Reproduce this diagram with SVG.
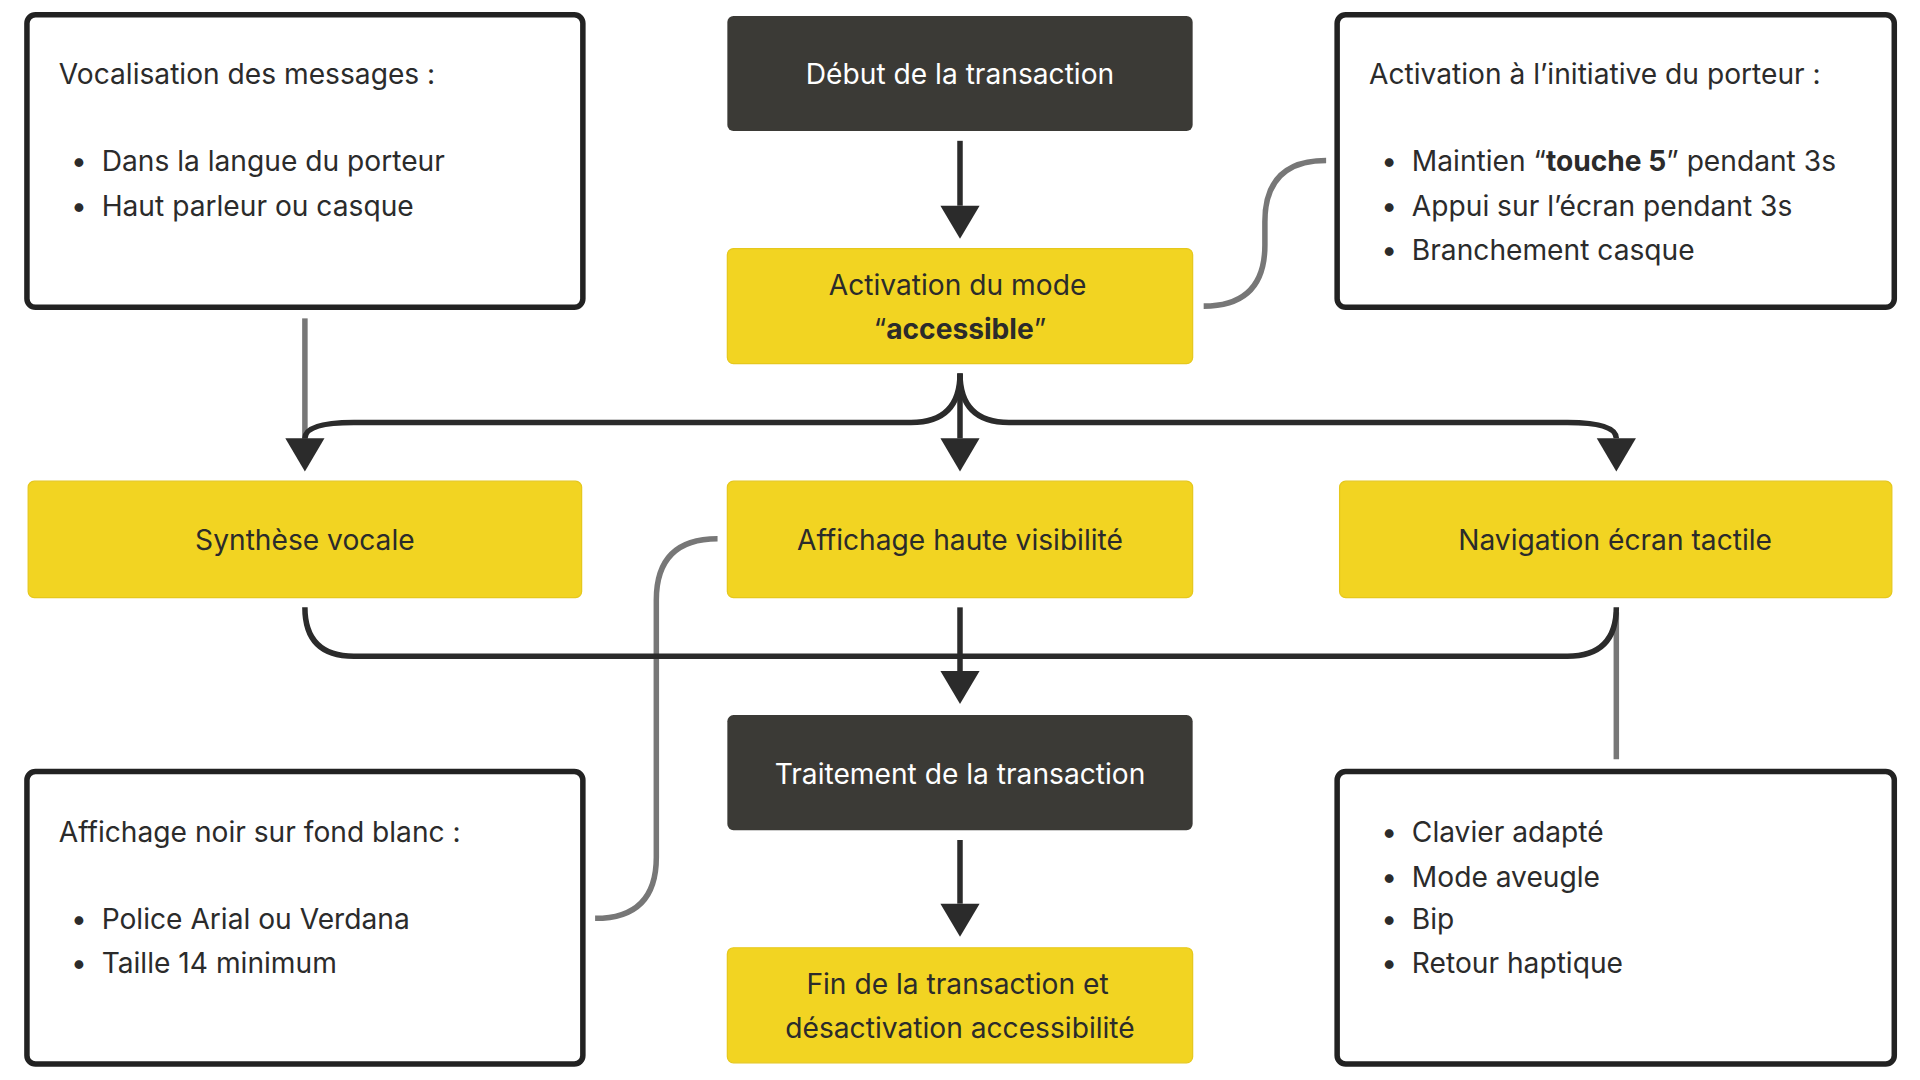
<svg xmlns="http://www.w3.org/2000/svg" width="1920" height="1080" viewBox="0 0 1920 1080">
<style>
.t{font-family:Inter,"Noto Sans",sans-serif;font-size:23px;fill:#2b2b2b}
.w{fill:#fff}
.c{text-anchor:middle}
.box{fill:#fff;stroke:#222;stroke-width:4.5}
.y{fill:#f2d422;stroke:#e6c81c;stroke-width:1}
.d{fill:#3b3a36}
.k{fill:none;stroke:#2b2b2b;stroke-width:4.5}
.g{fill:none;stroke:#777;stroke-width:4.5}
</style>
<defs>
<marker id="a" markerUnits="userSpaceOnUse" markerWidth="32" markerHeight="28" refX="16" refY="26" orient="auto-start-reverse" viewBox="0 0 32 28">
<path d="M0,0 L32,0 L16,28 Z" fill="#2b2b2b" transform="rotate(0)"/>
</marker>
</defs>
<rect width="1920" height="1080" fill="#fff"/>
<g transform="scale(1.22449)">
<g id="connectors">
<path class="g" d="M249,260 V360"/>
<path class="g" d="M1083,131 Q1033,131 1033,181 V200 Q1033,250 983,250"/>
<path class="g" d="M1320,500 V620"/>
<path class="g" d="M586,440 Q536,440 536,490 V700 Q536,750 486,750"/>
<path class="k" d="M784,115 V168"/>
<path d="M768,168 H800 L784,195 Z" fill="#2b2b2b"/>
<path class="k" d="M784,305 V358"/>
<path d="M768,358 H800 L784,385 Z" fill="#2b2b2b"/>
<path class="k" d="M784,305 Q784,345 744,345 H289 Q249,345 249,358"/>
<path d="M233,358 H265 L249,385 Z" fill="#2b2b2b"/>
<path class="k" d="M784,305 Q784,345 824,345 H1280 Q1320,345 1320,358"/>
<path d="M1304,358 H1336 L1320,385 Z" fill="#2b2b2b"/>
<path class="k" d="M249,496 Q249,536 289,536 H1280 Q1320,536 1320,496"/>
<path class="k" d="M784,496 V548"/>
<path d="M768,548 H800 L784,575 Z" fill="#2b2b2b"/>
<path class="k" d="M784,686 V738"/>
<path d="M768,738 H800 L784,765 Z" fill="#2b2b2b"/>
</g>
<g id="vocalisation"><rect class="box" x="22" y="12" width="454" height="239" rx="7"/>
<text class="t" x="48" y="69">Vocalisation des messages :</text>
<text class="t" x="58" y="140">•</text><text class="t" x="83" y="140">Dans la langue du porteur</text>
<text class="t" x="58" y="176">•</text><text class="t" x="83" y="176">Haut parleur ou casque</text></g>
<g id="debut"><rect class="d" x="594" y="13" width="380" height="94" rx="5"/><text class="t w c" x="784" y="69">Début de la transaction</text></g>
<g id="activation-porteur"><rect class="box" x="1092" y="12" width="455" height="239" rx="7"/>
<text class="t" x="1118" y="69">Activation à l’initiative du porteur :</text>
<text class="t" x="1128" y="140">•</text><text class="t" x="1153" y="140">Maintien “<tspan font-weight="bold">touche 5</tspan>” pendant 3s</text>
<text class="t" x="1128" y="176">•</text><text class="t" x="1153" y="176">Appui sur l’écran pendant 3s</text>
<text class="t" x="1128" y="212">•</text><text class="t" x="1153" y="212">Branchement casque</text></g>
<g id="activation-mode"><rect class="y" x="594" y="203" width="380" height="94" rx="5"/>
<text class="t c" x="782" y="241">Activation du mode</text>
<text class="t c" x="784" y="277">“<tspan font-weight="bold">accessible</tspan>”</text></g>
<g id="synthese"><rect class="y" x="23" y="393" width="452" height="95" rx="5"/><text class="t c" x="249" y="449">Synthèse vocale</text></g>
<g id="affichage-haute"><rect class="y" x="594" y="393" width="380" height="95" rx="5"/><text class="t c" x="784" y="449">Affichage haute visibilité</text></g>
<g id="navigation"><rect class="y" x="1094" y="393" width="451" height="95" rx="5"/><text class="t c" x="1319" y="449">Navigation écran tactile</text></g>
<g id="traitement"><rect class="d" x="594" y="584" width="380" height="94" rx="5"/><text class="t w c" x="784" y="640">Traitement de la transaction</text></g>
<g id="affichage-noir"><rect class="box" x="22" y="630" width="454" height="239" rx="7"/>
<text class="t" x="48" y="688">Affichage noir sur fond blanc :</text>
<text class="t" x="58" y="759">•</text><text class="t" x="83" y="759">Police Arial ou Verdana</text>
<text class="t" x="58" y="795">•</text><text class="t" x="83" y="795">Taille 14 minimum</text></g>
<g id="clavier"><rect class="box" x="1092" y="630" width="455" height="239" rx="7"/>
<text class="t" x="1128" y="688">•</text><text class="t" x="1153" y="688">Clavier adapté</text>
<text class="t" x="1128" y="724">•</text><text class="t" x="1153" y="724">Mode aveugle</text>
<text class="t" x="1128" y="759">•</text><text class="t" x="1153" y="759">Bip</text>
<text class="t" x="1128" y="795">•</text><text class="t" x="1153" y="795">Retour haptique</text></g>
<g id="fin"><rect class="y" x="594" y="774" width="380" height="94" rx="5"/>
<text class="t c" x="782" y="812">Fin de la transaction et</text>
<text class="t c" x="784" y="848">désactivation accessibilité</text></g>
</g>
</svg>
